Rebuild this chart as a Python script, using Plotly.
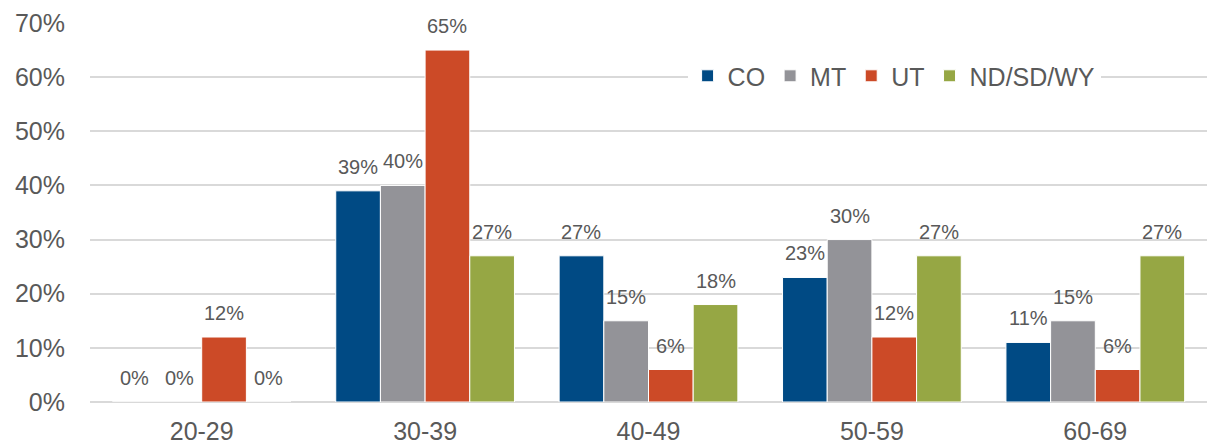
import plotly.graph_objects as go

# Age bands and share of respondents per state group
age_bands = ["20-29", "30-39", "40-49", "50-59", "60-69"]
series_names = ["CO", "MT", "UT", "ND/SD/WY"]
co_values = [0, 39, 27, 23, 11]
mt_values = [0, 40, 15, 30, 15]
ut_values = [12, 65, 6, 12, 6]
nd_sd_wy_values = [0, 27, 18, 27, 27]
y_ticks = [0, 10, 20, 30, 40, 50, 60, 70]
y_tick_labels = [f"{v}%" for v in y_ticks]

colors = ["#004A84", "#939398", "#CC4A27", "#96A744"]
all_values = [co_values, mt_values, ut_values, nd_sd_wy_values]

FONT = "Liberation Sans, Arial, sans-serif"
TEXT_COLOR = "#595959"

W, H = 1207, 447
margin = dict(l=90, r=0, t=23, b=45)
plot_w = W - margin["l"] - margin["r"]
bargap = 0.2
cat_w = plot_w / len(age_bands)
bar_w = cat_w * (1 - bargap) / len(series_names)

fig = go.Figure()
for name, vals, col in zip(series_names, all_values, colors):
    fig.add_trace(go.Bar(
        name=name, x=age_bands, y=vals,
        marker=dict(color=col, line=dict(color="white", width=1)),
        hoverinfo="x+y+name",
    ))

# value labels above each bar
annotations = []
for i, vals in enumerate(all_values):
    dx = (i - (len(series_names) - 1) / 2) * bar_w
    for cat, v in zip(age_bands, vals):
        annotations.append(dict(
            x=cat, y=v, xref="x", yref="y", text=f"{v}%",
            showarrow=False, xshift=dx, yshift=11, yanchor="bottom",
            font=dict(family=FONT, size=20, color=TEXT_COLOR),
        ))

fig.update_layout(
    width=W, height=H, margin=margin,
    barmode="group", bargap=bargap, bargroupgap=0,
    plot_bgcolor="white", paper_bgcolor="white",
    font=dict(family=FONT, color=TEXT_COLOR),
    annotations=annotations,
    legend=dict(
        orientation="h", x=0.535, y=0.86, xanchor="left", yanchor="middle",
        bgcolor="white", font=dict(family=FONT, size=25, color=TEXT_COLOR),
        itemwidth=30, traceorder="normal", tracegroupgap=0,
    ),
    xaxis=dict(
        showgrid=False, showline=False, ticks="",
        tickfont=dict(family=FONT, size=25, color=TEXT_COLOR),
        ticklabelstandoff=12,
    ),
    yaxis=dict(
        range=[0, 70], tickvals=y_ticks, ticktext=y_tick_labels,
        showgrid=True, gridcolor="#D9D9D9", gridwidth=2,
        zeroline=True, zerolinecolor="#D9D9D9", zerolinewidth=2,
        showline=False, ticks="",
        tickfont=dict(family=FONT, size=25, color=TEXT_COLOR),
        ticklabelstandoff=24,
    ),
)

fig.write_html("out.html")
